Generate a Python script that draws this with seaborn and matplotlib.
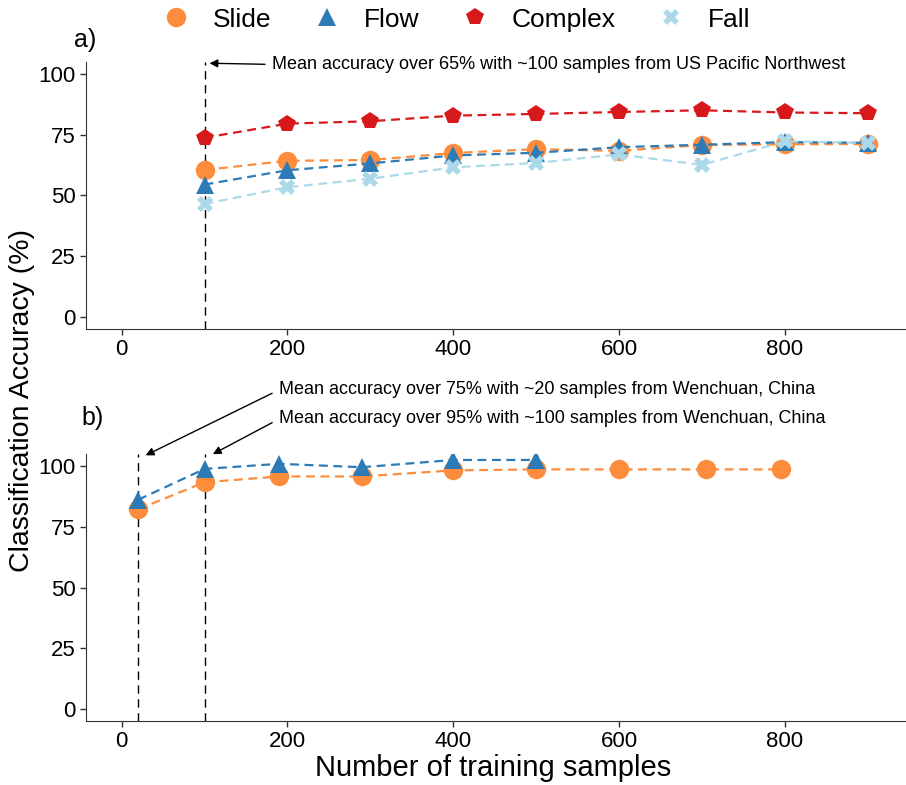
import pandas as pd
import seaborn as sns
import matplotlib.pyplot as plt

# panel a: US Pacific Northwest
samples_a = [100, 200, 300, 400, 500, 600, 700, 800, 900]
slide_a = [60.5, 64.3, 64.6, 67.5, 69.1, 68.4, 70.8, 71.1, 71.2]
flow_a = [54.5, 60.4, 63.2, 66.5, 67.6, 69.9, 70.9, 72.0, 71.7]
complex_a = [73.8, 79.6, 80.6, 82.9, 83.6, 84.4, 85.1, 84.2, 83.9]
fall_a = [46.5, 53.4, 56.9, 61.6, 63.4, 66.9, 62.6, 72.3, 71.7]

# panel b: Wenchuan, China
samples_b_slide = [20, 100, 190, 290, 400, 500, 600, 705, 795]
slide_b = [82.3, 93.4, 95.8, 95.8, 98.3, 98.7, 98.7, 98.7, 98.7]
samples_b_flow = [20, 100, 190, 290, 400, 500]
flow_b = [86.2, 98.9, 101.0, 99.6, 102.6, 102.6]

classes = ["Slide", "Flow", "Complex", "Fall"]
colors = {"Slide": "#fd8d3c", "Flow": "#2c7bb6", "Complex": "#d7191c", "Fall": "#abd9e9"}
markers = {"Slide": "o", "Flow": "^", "Complex": "p", "Fall": "X"}
msize = {"Slide": 14, "Flow": 13, "Complex": 13, "Fall": 12}

df_a = pd.DataFrame({
    "samples": samples_a * 4,
    "acc": slide_a + flow_a + complex_a + fall_a,
    "type": [c for c in classes for _ in samples_a],
})
df_b = pd.DataFrame({
    "samples": samples_b_slide + samples_b_flow,
    "acc": slide_b + flow_b,
    "type": ["Slide"] * len(slide_b) + ["Flow"] * len(flow_b),
})

sns.set_style("ticks")
plt.rcParams["font.family"] = ["Liberation Sans", "DejaVu Sans"]
plt.rcParams["text.color"] = "black"

fig = plt.figure(figsize=(9.06, 7.85), dpi=100)
ax_a = fig.add_axes([0.0949, 0.581, 0.904, 0.340])
ax_b = fig.add_axes([0.0949, 0.0815, 0.904, 0.340])


def draw_panel(ax, df):
    for c in classes:
        sub = df[df["type"] == c]
        if sub.empty:
            continue
        sns.lineplot(data=sub, x="samples", y="acc", ax=ax, color=colors[c],
                     marker=markers[c], markersize=msize[c], markeredgewidth=0,
                     linestyle=(0, (4, 2.5)), linewidth=1.6, label=c, legend=False)
    ax.set_xlim(-43, 945)
    ax.set_ylim(-5, 105)
    ax.set_xticks([0, 200, 400, 600, 800])
    ax.set_yticks([0, 25, 50, 75, 100])
    ax.tick_params(labelsize=16, length=4, width=1, colors="#333333",
                   labelcolor="black")
    ax.set_xlabel("")
    ax.set_ylabel("")
    for s in ["left", "bottom"]:
        ax.spines[s].set_color("#333333")
    sns.despine(ax=ax)


draw_panel(ax_a, df_a)
draw_panel(ax_b, df_b)

arrow = dict(arrowstyle="-|>", color="black", lw=1, mutation_scale=12,
             shrinkA=3, shrinkB=0, relpos=(0, 0.5))
note_size = 13
vdash = (0, (6, 4))

# panel a annotation
ax_a.axvline(100, color="black", linestyle=vdash, lw=1, zorder=0)
ax_a.annotate("Mean accuracy over 65% with ~100 samples from US Pacific Northwest",
              xy=(106, 104.5), xytext=(182, 104), va="center", ha="left",
              fontsize=note_size, arrowprops=arrow, annotation_clip=False)

# panel b annotations
ax_b.axvline(20, color="black", linestyle=vdash, lw=1, zorder=0)
ax_b.axvline(100, color="black", linestyle=vdash, lw=1, zorder=0)
ax_b.annotate("Mean accuracy over 75% with ~20 samples from Wenchuan, China",
              xy=(29, 104.5), xytext=(190, 131.5), va="center", ha="left",
              fontsize=note_size, arrowprops=arrow, annotation_clip=False)
ax_b.annotate("Mean accuracy over 95% with ~100 samples from Wenchuan, China",
              xy=(110, 105), xytext=(190, 119.5), va="center", ha="left",
              fontsize=note_size, arrowprops=arrow, annotation_clip=False)

fig.text(0.094, 0.949, "a)", fontsize=18, ha="center", va="center")
fig.text(0.102, 0.468, "b)", fontsize=18, ha="center", va="center")
fig.text(0.024, 0.490, "Classification Accuracy (%)", fontsize=20.5,
         rotation=90, ha="center", va="center")
fig.text(0.544, 0.022, "Number of training samples", fontsize=21,
         ha="center", va="center")

leg_handles = []
for c in classes:
    h = plt.Line2D([], [], color=colors[c], marker=markers[c], linestyle="none",
                   markersize=msize[c], markeredgewidth=0)
    leg_handles.append(h)
fig.legend(leg_handles, classes, loc="center", bbox_to_anchor=(0.497, 0.975),
           ncol=4, frameon=False, fontsize=19, handletextpad=0.4,
           columnspacing=1.1)

fig.savefig("out.png", dpi=100)
